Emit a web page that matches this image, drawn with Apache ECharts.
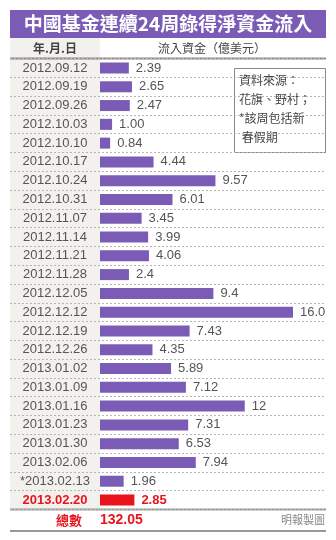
<!DOCTYPE html>
<html><head><meta charset="utf-8">
<script src="https://cdn.jsdelivr.net/npm/echarts@6/dist/echarts.min.js"></script>
<style>html,body{margin:0;padding:0;background:#fff}#c{width:336px;height:540px}</style>
</head><body><div id="c"></div>
<script>
var categories = ['2012.09.12','2012.09.19','2012.09.26','2012.10.03','2012.10.10','2012.10.17','2012.10.24','2012.10.31','2012.11.07','2012.11.14','2012.11.21','2012.11.28','2012.12.05','2012.12.12','2012.12.19','2012.12.26','2013.01.02','2013.01.09','2013.01.16','2013.01.23','2013.01.30','2013.02.06','*2013.02.13','2013.02.20'];
var values = [2.39,2.65,2.47,1.00,0.84,4.44,9.57,6.01,3.45,3.99,4.06,2.4,9.4,16.0,7.43,4.35,5.89,7.12,12,7.31,6.53,7.94,1.96,2.85];
var valueLabels = ['2.39','2.65','2.47','1.00','0.84','4.44','9.57','6.01','3.45','3.99','4.06','2.4','9.4','16.0','7.43','4.35','5.89','7.12','12','7.31','6.53','7.94','1.96','2.85'];
var highlightIndex = 23;
var titleText = '中國基金連續24周錄得淨資金流入';
var headerDate = '年.月.日';
var headerValue = '流入資金（億美元）';
var totalLabel = '總數';
var totalValue = '132.05';
var noteLines = ['資料來源：','花旗、野村；','*該周包括新',' 春假期'];
var credit = '明報製圖';

(function(){
var PURPLE = '#7a5cb6', RED = '#e8141c', GRAY = '#555';
var NUM = '"Liberation Sans", Arial, sans-serif';
var CJK = '"Noto Sans CJK TC", sans-serif';

var chart = echarts.init(document.getElementById('c'), null, {renderer:'canvas'});
var gTop = 58.6, gBottom = 540 - 509.4;
chart.setOption({
  animation:false,
  backgroundColor:'#fff',
  grid:[
    {left:10, right:236, top:38, bottom:gBottom, show:true, backgroundColor:'#f3f1ed', borderWidth:0},
    {left:10, right:10, top:gTop, bottom:gBottom},
    {left:100, right:43, top:gTop, bottom:gBottom}
  ],
  xAxis:[
    {gridIndex:0, show:false, min:0, max:1},
    {gridIndex:1, show:false, min:0, max:1},
    {gridIndex:2, type:'value', min:0, max:16, show:false}
  ],
  yAxis:[
    {gridIndex:0, type:'category', data:['a'], show:false},
    {gridIndex:1, type:'category', inverse:true, data:categories,
     axisLine:{show:false}, axisTick:{show:false}, axisLabel:{show:false},
     splitLine:{show:true, interval:0, lineStyle:{type:[2,2], color:'#b5b5b5', width:1}}},
    {gridIndex:2, type:'category', inverse:true, data:categories,
     axisLine:{show:false}, axisTick:{show:false},
     axisLabel:{margin:45, align:'center', interval:0,
       formatter:function(v, i){ return i === highlightIndex ? '{r|' + v + '}' : '{g|' + v + '}'; },
       rich:{
         g:{color:GRAY, fontSize:13, fontFamily:NUM},
         r:{color:RED, fontSize:13, fontFamily:NUM, fontWeight:'bold'}
       }},
     splitLine:{show:false}}
  ],
  series:[{
    type:'bar', xAxisIndex:2, yAxisIndex:2, barWidth:11,
    data: values.map(function(v, i){
      return i === highlightIndex ? {value:v, itemStyle:{color:RED}, label:{color:RED, fontWeight:'bold'}} : v;
    }),
    itemStyle:{color:PURPLE},
    label:{show:true, position:'right', distance:7, color:GRAY, fontSize:13, fontFamily:NUM,
      formatter:function(p){ return valueLabels[p.dataIndex]; }}
  }],
  graphic:[
    {type:'rect', shape:{x:10, y:10, width:316, height:28}, style:{fill:PURPLE}},
    {type:'text', x:168, y:24, style:{text:titleText, fill:'#fff', font:'bold 19px ' + CJK, textAlign:'center', textVerticalAlign:'middle'}},
    {type:'text', x:55, y:48, style:{text:headerDate, fill:'#444', font:'bold 12px ' + CJK, textAlign:'center', textVerticalAlign:'middle'}},
    {type:'text', x:212, y:48, style:{text:headerValue, fill:'#444', font:'12px ' + CJK, textAlign:'center', textVerticalAlign:'middle'}},
    {type:'line', shape:{x1:10, y1:58.5, x2:326, y2:58.5}, style:{stroke:'#888', lineWidth:2}},
    {type:'line', shape:{x1:10, y1:509.5, x2:326, y2:509.5}, style:{stroke:'#999', lineWidth:2}},
    {type:'line', shape:{x1:10, y1:531, x2:326, y2:531}, style:{stroke:'#999', lineWidth:2}},
    {type:'text', x:69, y:520, style:{text:totalLabel, fill:RED, font:'bold 13px ' + CJK, textAlign:'center', textVerticalAlign:'middle'}},
    {type:'text', x:100, y:520, style:{text:totalValue, fill:RED, font:'bold 14px ' + NUM, textAlign:'left', textVerticalAlign:'middle'}},
    {type:'text', x:325, y:520, style:{text:credit, fill:'#888', font:'11px ' + CJK, textAlign:'right', textVerticalAlign:'middle'}},
    {type:'rect', shape:{x:234.5, y:68.5, width:91, height:84}, style:{fill:'#fff', stroke:'#888', lineWidth:1}},
    {type:'text', x:239, y:80, style:{text:noteLines[0], fill:'#444', font:'12px ' + CJK, textVerticalAlign:'middle'}},
    {type:'text', x:239, y:99, style:{text:noteLines[1], fill:'#444', font:'12px ' + CJK, textVerticalAlign:'middle'}},
    {type:'text', x:239, y:118, style:{text:noteLines[2], fill:'#444', font:'12px ' + CJK, textVerticalAlign:'middle'}},
    {type:'text', x:239, y:137, style:{text:noteLines[3], fill:'#444', font:'12px ' + CJK, textVerticalAlign:'middle'}}
  ]
});
})();
</script></body></html>
